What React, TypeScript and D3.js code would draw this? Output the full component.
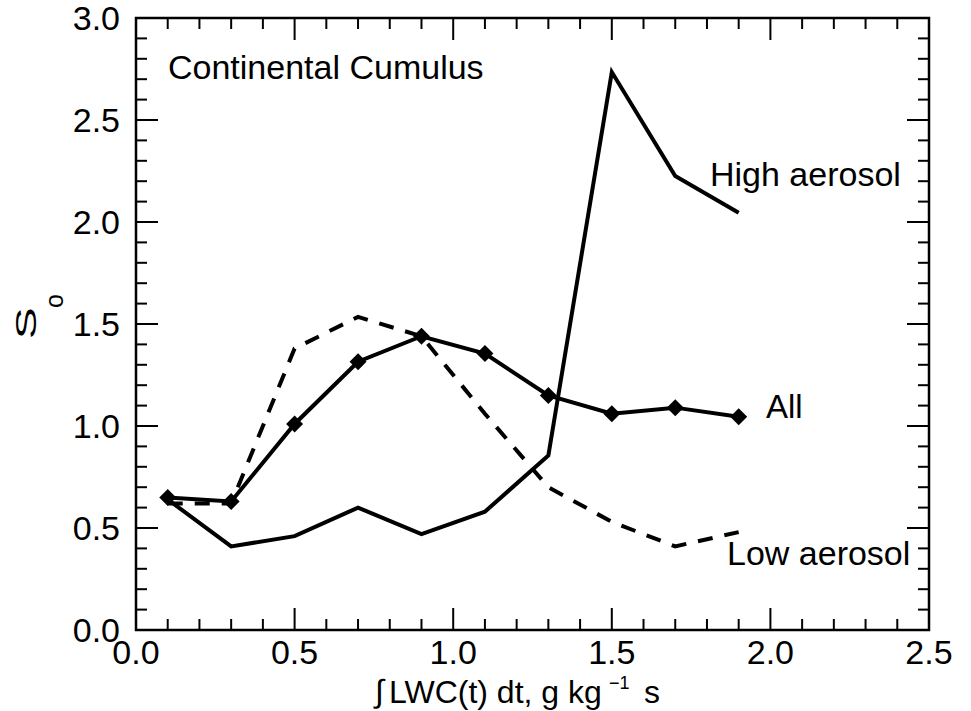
import React from "react";
import * as d3 from "d3";

const xValues = [0.1, 0.3, 0.5, 0.7, 0.9, 1.1, 1.3, 1.5, 1.7, 1.9];
const allValues = [0.65, 0.63, 1.01, 1.315, 1.44, 1.355, 1.15, 1.06, 1.09, 1.045];
const highAerosol = [0.64, 0.41, 0.46, 0.6, 0.47, 0.58, 0.855, 2.735, 2.225, 2.045];
const lowAerosol = [0.62, 0.62, 1.38, 1.535, 1.44, 1.06, 0.7, 0.53, 0.41, 0.48];
const xTickLabels = ["0.0", "0.5", "1.0", "1.5", "2.0", "2.5"];
const yTickLabels = ["0.0", "0.5", "1.0", "1.5", "2.0", "2.5", "3.0"];

const W = 971;
const H = 711;
const L = 136, R = 929, T = 18, B = 630;
const FONT = "'Liberation Sans', Arial, Helvetica, sans-serif";

export default function App() {
  const x = d3.scaleLinear().domain([0, 2.5]).range([L, R]);
  const y = d3.scaleLinear().domain([0, 3]).range([B, T]);

  const line = d3
    .line<[number, number]>()
    .x((d) => x(d[0]))
    .y((d) => y(d[1]));

  const zip = (vals: number[]) => xValues.map((v, i) => [v, vals[i]] as [number, number]);

  const xMinor = d3.range(0, 26).map((i) => i / 10);
  const yMinor = d3.range(0, 31).map((i) => i / 10);
  const isMajor = (v: number) => Math.abs(v * 2 - Math.round(v * 2)) < 1e-6;

  const diamond = d3.symbol().type(d3.symbolSquare).size(144)();

  return (
    <svg
      width={W}
      height={H}
      style={{ position: "absolute", left: 0, top: 0, background: "#fff" }}
      fontFamily={FONT}
    >
      <rect x={0} y={0} width={W} height={H} fill="#fff" />
      {/* ticks */}
      <g stroke="#000" strokeWidth={2}>
        {xMinor.map((v, i) => {
          const len = isMajor(v) ? 22 : 11;
          return (
            <g key={"xt" + i}>
              <line x1={x(v)} x2={x(v)} y1={B} y2={B - len} />
              <line x1={x(v)} x2={x(v)} y1={T} y2={T + len} />
            </g>
          );
        })}
        {yMinor.map((v, i) => {
          const len = isMajor(v) ? 22 : 11;
          return (
            <g key={"yt" + i}>
              <line x1={L} x2={L + len} y1={y(v)} y2={y(v)} />
              <line x1={R} x2={R - len} y1={y(v)} y2={y(v)} />
            </g>
          );
        })}
      </g>
      <rect x={L} y={T} width={R - L} height={B - T} fill="none" stroke="#000" strokeWidth={2.5} />

      {/* tick labels */}
      <g fontSize={34} fill="#000">
        {xTickLabels.map((t) => (
          <text key={"xl" + t} x={x(+t)} y={664} textAnchor="middle">
            {t}
          </text>
        ))}
        {yTickLabels.map((t) => (
          <text key={"yl" + t} x={120} y={y(+t) + 12} textAnchor="end">
            {t}
          </text>
        ))}
      </g>

      {/* x axis title */}
      <g fill="#000">
        <text x={375} y={702} fontSize={32}>∫</text>
        <text x={389} y={703} fontSize={32}>LWC(t) dt, g kg</text>
        <text x={609} y={689} fontSize={18}>−1</text>
        <text x={644} y={703} fontSize={32}>s</text>
      </g>

      {/* y axis title */}
      <g transform="translate(36,336) rotate(-90)" fill="#000">
        <text x={-2} y={0} fontSize={30} transform="scale(1.6,1)">S</text>
        <text x={28} y={27} fontSize={25}>o</text>
      </g>

      {/* lines */}
      <path d={line(zip(highAerosol)) || ""} fill="none" stroke="#000" strokeWidth={4} />
      <path
        d={line(zip(lowAerosol)) || ""}
        fill="none"
        stroke="#000"
        strokeWidth={4}
        strokeDasharray="15,12"
      />
      <path d={line(zip(allValues)) || ""} fill="none" stroke="#000" strokeWidth={4} />
      {xValues.map((v, i) => (
        <path
          key={"m" + i}
          d={diamond || ""}
          transform={`translate(${x(v)},${y(allValues[i])}) rotate(45)`}
          fill="#000"
        />
      ))}

      {/* annotations */}
      <g fontSize={34} fill="#000">
        <text x={168} y={79}>Continental Cumulus</text>
        <text x={710} y={186}>High aerosol</text>
        <text x={727} y={565}>Low aerosol</text>
        <text x={766} y={418} fontSize={33}>All</text>
      </g>
    </svg>
  );
}
